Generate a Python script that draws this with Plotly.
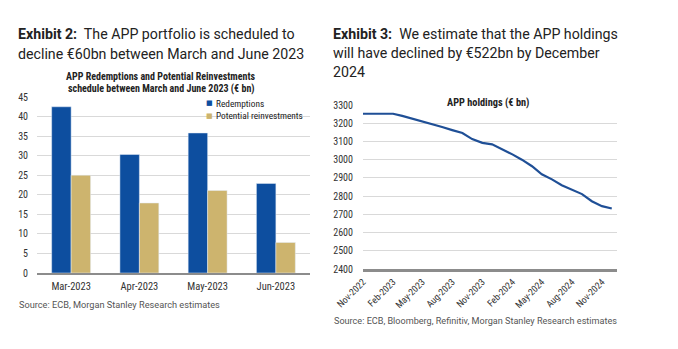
import plotly.graph_objects as go

W, H = 678, 349

# ---- data ----
months_bar = ["Mar-2023", "Apr-2023", "May-2023", "Jun-2023"]
redemptions = [42.5, 30.3, 35.8, 22.9]
reinvestments = [25.0, 17.9, 21.1, 7.8]

hold_dates = ["2022-11-01", "2022-12-01", "2023-01-01", "2023-02-01", "2023-03-01",
              "2023-04-01", "2023-05-01", "2023-06-01", "2023-07-01", "2023-08-01",
              "2023-09-01", "2023-10-01", "2023-11-01", "2023-12-01", "2024-01-01",
              "2024-02-01", "2024-03-01", "2024-04-01", "2024-05-01", "2024-06-01",
              "2024-07-01", "2024-08-01", "2024-09-01", "2024-10-01", "2024-11-01",
              "2024-12-01"]
holdings = [3252, 3252, 3252, 3252, 3240, 3225, 3210, 3197, 3179, 3162,
            3146, 3113, 3092, 3084, 3058, 3029, 3000, 2964, 2920, 2892,
            2860, 2837, 2811, 2772, 2745, 2732]

tick_dates = ["2022-11-01", "2023-02-01", "2023-05-01", "2023-08-01", "2023-11-01",
              "2024-02-01", "2024-05-01", "2024-08-01", "2024-11-01"]
tick_text = ["Nov-2022", "Feb-2023", "May-2023", "Aug-2023", "Nov-2023",
             "Feb-2024", "May-2024", "Aug-2024", "Nov-2024"]

series_names = ["Redemptions", "Potential reinvestments"]

def px(x):
    return x / W

def py(y):
    return 1 - y / H

COND = "Roboto Condensed, Liberation Sans Narrow, Roboto, sans-serif"
BASE = "Roboto, Liberation Sans, sans-serif"
BLUE = "#0D4E9F"
GOLD = "#CDB46E"
GRID = "#D9D9D9"

fig = go.Figure()
fig.add_trace(go.Bar(x=months_bar, y=redemptions, name=series_names[0],
                     marker_color=BLUE, xaxis="x", yaxis="y", showlegend=False))
fig.add_trace(go.Bar(x=months_bar, y=reinvestments, name=series_names[1],
                     marker_color=GOLD, xaxis="x", yaxis="y", showlegend=False))
fig.add_trace(go.Scatter(x=hold_dates, y=holdings, mode="lines", showlegend=False,
                         line=dict(color="#1F4F96", width=2.2), xaxis="x2", yaxis="y2"))

tickfont = dict(family=COND, size=10, color="#333333")

fig.update_layout(
    width=W, height=H, margin=dict(l=0, r=0, t=0, b=0, autoexpand=False),
    paper_bgcolor="white", plot_bgcolor="white",
    barmode="group", bargap=0.43, bargroupgap=0,
    xaxis=dict(domain=[px(37), px(310)], anchor="y", type="category",
               automargin=False,
               showline=True, linecolor="#8C8C8C", linewidth=1.5,
               showgrid=False, tickfont=dict(family=COND, size=10.5, color="#333333"),
               ticks="outside", ticklen=3, tickcolor="rgba(0,0,0,0)"),
    yaxis=dict(domain=[py(273), py(97)], anchor="x", range=[0, 45], automargin=False,
               tickvals=list(range(0, 46, 5)), showgrid=True, gridcolor=GRID,
               gridwidth=1, zeroline=False, tickfont=tickfont,
               ticks="outside", ticklen=6, tickcolor="rgba(0,0,0,0)"),
    xaxis2=dict(domain=[px(363), px(617)], anchor="y2", type="date", automargin=False,
                range=["2022-11-01", "2024-12-17"], tickvals=tick_dates,
                ticktext=tick_text, tickangle=-45, showgrid=False,
                showline=True, linecolor="#8C8C8C", linewidth=2.5,
                tickfont=dict(family=COND, size=9.5, color="#333333"),
                ticks="outside", ticklen=1, tickcolor="rgba(0,0,0,0)"),
    yaxis2=dict(domain=[py(269), py(105)], anchor="x2", range=[2400, 3300],
                automargin=False,
                tickvals=list(range(2400, 3301, 100)), showgrid=True,
                gridcolor=GRID, zeroline=False, tickfont=tickfont,
                ticks="outside", ticklen=7, tickcolor="rgba(0,0,0,0)"),
)

ann = []
def text(x, y, s, size, color="#222222", family=BASE, xanchor="left"):
    ann.append(dict(x=px(x), y=py(y), xref="paper", yref="paper", text=s,
                    showarrow=False, xanchor=xanchor, yanchor="middle",
                    font=dict(family=family, size=size, color=color)))

HS = 14.2
text(16, 34, "<b>Exhibit 2:</b>  The APP portfolio is scheduled to", HS)
text(16, 54, "decline €60bn between March and June 2023", HS)
text(331, 34, "<b>Exhibit 3:</b>  We estimate that the APP holdings", HS)
text(331, 53, "will have declined by €522bn by December", HS)
text(331, 72, "2024", HS)

text(161, 76, "<b>APP Redemptions and Potential Reinvestments</b>", 10,
     family=COND, xanchor="center")
text(161, 89, "<b>schedule between March and June 2023 (€ bn)</b>", 10,
     family=COND, xanchor="center")
text(488, 102, "<b>APP holdings (€ bn)</b>", 10.3, family=COND, xanchor="center")

# legend (left chart)
text(209.5, 103.5, "■", 7, color=BLUE, family="DejaVu Sans", xanchor="center")
text(214, 103.5, series_names[0], 9.3, color="#222222", family=COND)
text(209.5, 115.5, "■", 7, color=GOLD, family="DejaVu Sans", xanchor="center")
text(214, 115.5, series_names[1], 9.3, color="#222222", family=COND)

text(17, 304, "Source: ECB, Morgan Stanley Research estimates", 9.2, color="#555555")
text(332, 321, "Source: ECB, Bloomberg, Refinitiv, Morgan Stanley Research estimates",
     9.1, color="#555555")

fig.update_layout(annotations=ann)
fig.write_html("out.html")
